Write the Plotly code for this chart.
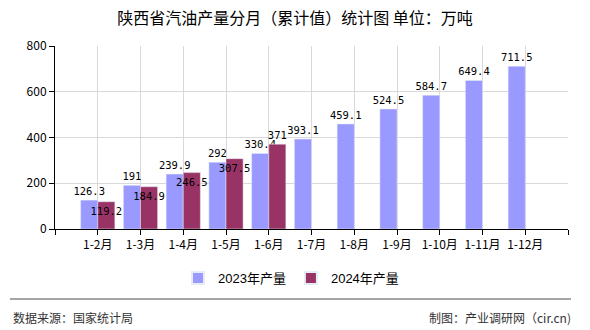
import plotly.graph_objects as go

categories = ["1-2月", "1-3月", "1-4月", "1-5月", "1-6月", "1-7月", "1-8月", "1-9月", "1-10月", "1-11月", "1-12月"]
values_2023 = [126.3, 191, 239.9, 292, 330.4, 393.1, 459.1, 524.5, 584.7, 649.4, 711.5]
values_2024 = [119.2, 184.9, 246.5, 307.5, 371, None, None, None, None, None, None]
y_ticks = [0, 200, 400, 600, 800]

W, H = 590, 330
L, R, T, B = 55, 22, 46, 101
pw, ph = W - L - R, H - T - B

def px_x(p):
    return (p - L) / pw

def px_y(p):
    return (H - B - p) / ph

font_cjk = "SimSun, 'Noto Sans CJK SC', sans-serif"
font_num = "'DejaVu Sans Mono', monospace"
xs = list(range(len(categories)))

# label placement for the 2024 series: inside the bar top, except where it
# would collide with the neighbouring 2023 label (then placed above the bar)
pos_2024 = []
for v23, v24 in zip(values_2023, values_2024):
    if v24 is None:
        pos_2024.append("none")
    elif v24 - v23 > 25:
        pos_2024.append("outside")
    else:
        pos_2024.append("inside")

fig = go.Figure()
fig.add_trace(go.Bar(
    x=xs, y=values_2023, name="2023年产量", marker_color="#9999FF",
    text=[f"{v:g}" for v in values_2023], textposition="outside",
    textfont=dict(family=font_num, size=10.5, color="#000"),
    constraintext="none", textangle=0, cliponaxis=False,
))
fig.add_trace(go.Bar(
    x=xs, y=values_2024, name="2024年产量", marker_color="#993366",
    text=[("" if v is None else f"{v:g}") for v in values_2024], textposition=pos_2024,
    insidetextanchor="end",
    textfont=dict(family=font_num, size=10.5, color="#000"),
    constraintext="none", textangle=0, cliponaxis=False,
))

fig.update_layout(
    width=W, height=H,
    margin=dict(l=L, r=R, t=T, b=B, pad=0),
    paper_bgcolor="white", plot_bgcolor="white",
    barmode="group", bargap=0.2, bargroupgap=0,
    font=dict(family=font_cjk, size=12, color="#000"),
    title=dict(text="陕西省汽油产量分月（累计值）统计图 单位：万吨", x=0.5, xref="container",
               y=1 - 18 / H, yref="container", yanchor="middle", xanchor="center",
               font=dict(family=font_cjk, size=16, color="#000")),
    showlegend=True,
    legend=dict(orientation="h", x=px_x(291), xanchor="center", y=px_y(278), yanchor="middle",
                font=dict(family="Liberation Sans, 'Noto Sans CJK SC', sans-serif", size=13, color="#000"),
                itemsizing="constant", traceorder="normal", bgcolor="rgba(0,0,0,0)"),
    xaxis=dict(
        range=[-1, len(categories)],
        tickmode="array",
        tickvals=list(range(-1, len(categories) + 1)),
        ticktext=[""] + categories + [""],
        showgrid=True, gridcolor="#d9d9d9", gridwidth=1,
        showline=True, linecolor="#000", linewidth=1,
        ticks="outside", ticklen=5, tickcolor="#000",
        tickfont=dict(family=font_cjk, size=12, color="#000"),
        zeroline=False,
    ),
    yaxis=dict(
        range=[0, 800], tickmode="array", tickvals=y_ticks,
        showgrid=True, gridcolor="#d9d9d9", gridwidth=1,
        showline=True, linecolor="#000", linewidth=1,
        ticks="outside", ticklen=5, tickcolor="#000",
        tickfont=dict(family=font_cjk, size=12, color="#000"),
        zeroline=False,
    ),
    shapes=[dict(type="line", xref="paper", yref="paper",
                 x0=px_x(10), x1=px_x(571), y0=px_y(299), y1=px_y(299),
                 line=dict(color="#888", width=1.5))],
    annotations=[
        dict(text="数据来源：国家统计局", xref="paper", yref="paper", x=px_x(11), y=px_y(317),
             xanchor="left", yanchor="middle", showarrow=False,
             font=dict(family=font_cjk, size=12, color="#333")),
        dict(text="制图：产业调研网（cir.cn)", xref="paper", yref="paper", x=px_x(573), y=px_y(317),
             xanchor="right", yanchor="middle", showarrow=False,
             font=dict(family=font_cjk, size=12, color="#333")),
    ],
)

fig.write_html("out.html")
